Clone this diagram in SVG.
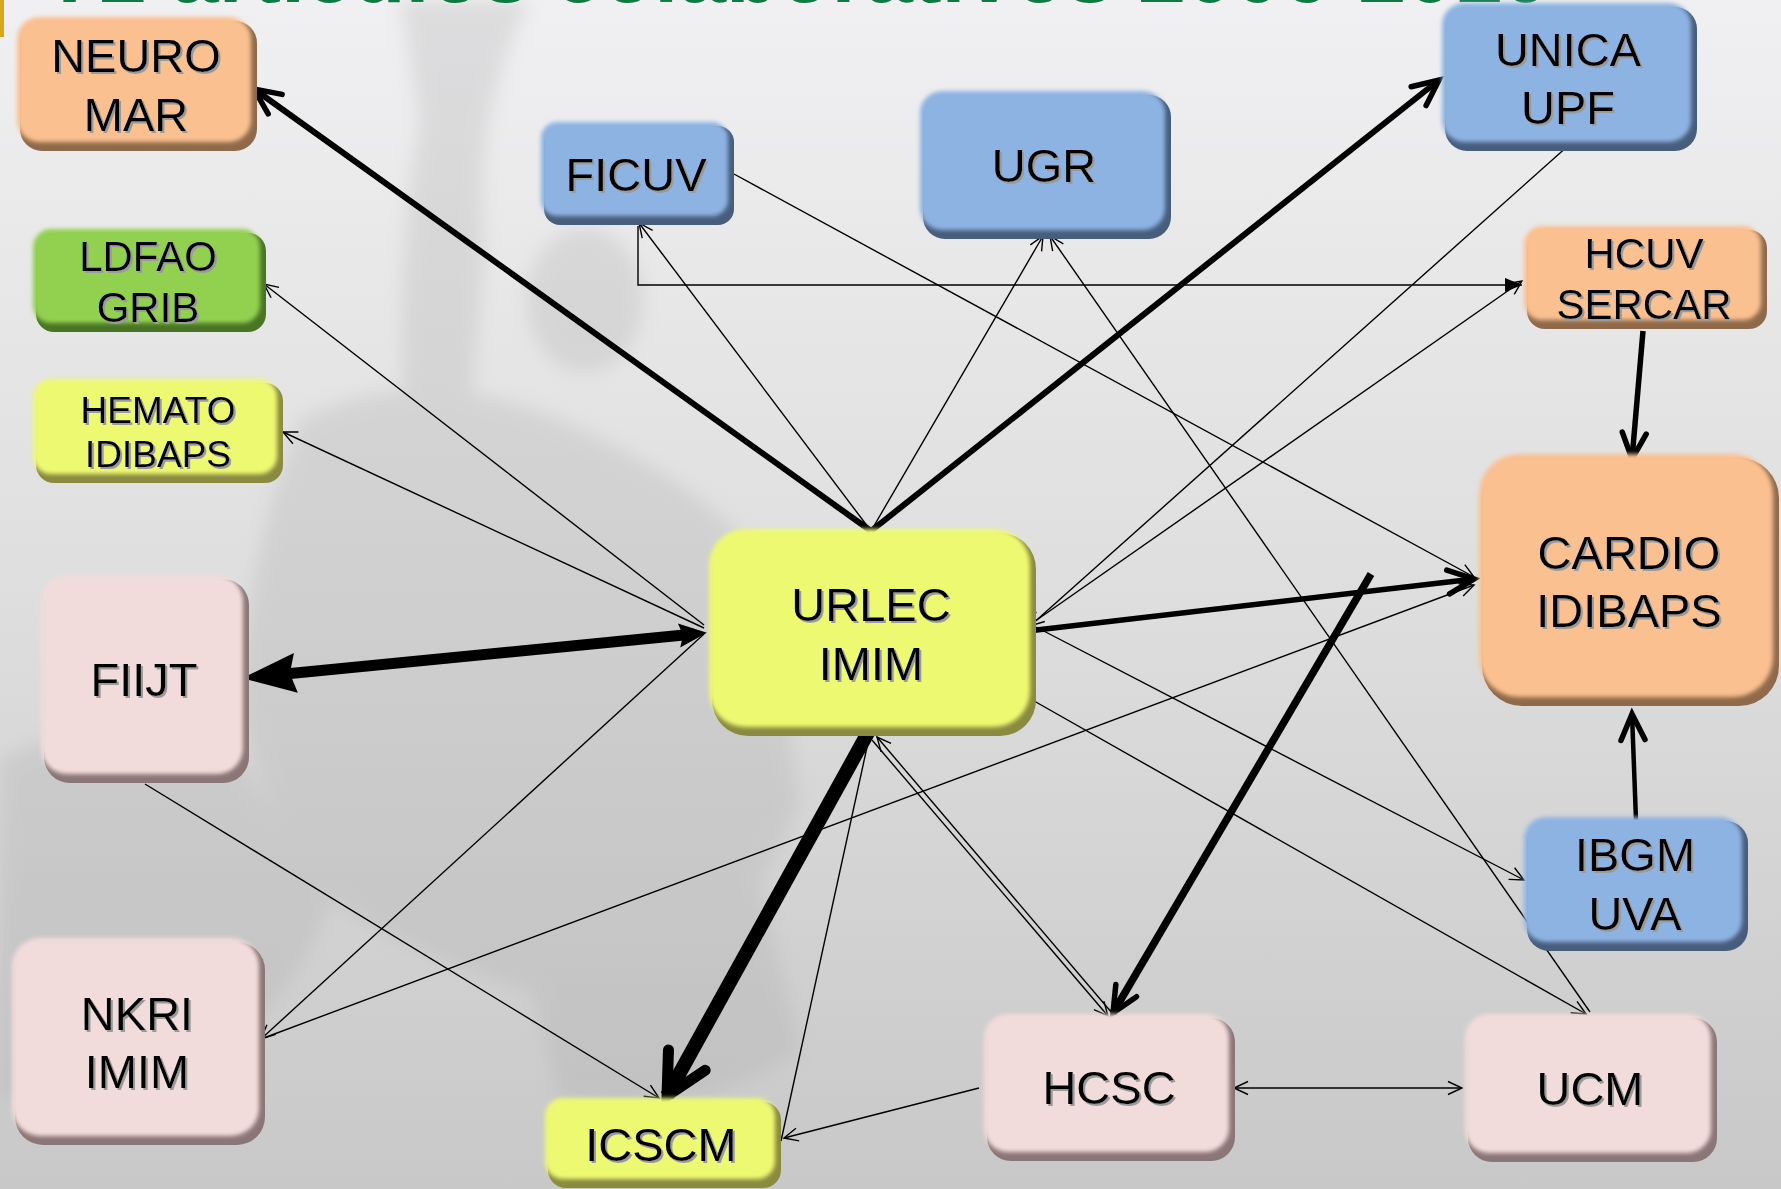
<svg xmlns="http://www.w3.org/2000/svg" width="1781" height="1189" viewBox="0 0 1781 1189">
<defs>
<linearGradient id="bg" x1="0" y1="0" x2="0" y2="1">
<stop offset="0" stop-color="#f0f0f2"/>
<stop offset="0.5" stop-color="#dedede"/>
<stop offset="1" stop-color="#c8c8c8"/>
</linearGradient>
<filter id="soft" x="-5%" y="-5%" width="110%" height="110%"><feGaussianBlur stdDeviation="2"/></filter>
<filter id="haze" x="-20%" y="-20%" width="140%" height="140%"><feGaussianBlur stdDeviation="9"/></filter>
<filter id="tsh" x="-5%" y="-10%" width="110%" height="130%"><feDropShadow dx="2" dy="2" stdDeviation="0.6" flood-color="#9a9a9a" flood-opacity="1"/></filter>
<marker id="aThin" markerUnits="userSpaceOnUse" markerWidth="20" markerHeight="18" refX="15" refY="8" orient="auto-start-reverse" overflow="visible">
<path d="M1,1.5 L15,8 L1,14.5" fill="none" stroke="#000" stroke-width="1.4"/>
</marker>
<marker id="aThick" markerUnits="userSpaceOnUse" markerWidth="36" markerHeight="32" refX="30" refY="15" orient="auto" overflow="visible">
<path d="M4,3 L30,15 L4,27" fill="none" stroke="#000" stroke-width="5.5" stroke-linecap="round"/>
</marker>
<marker id="aHuge" markerUnits="userSpaceOnUse" markerWidth="60" markerHeight="54" refX="48" refY="26" orient="auto" overflow="visible">
<path d="M7,5 L48,26 L7,47" fill="none" stroke="#000" stroke-width="11" stroke-linecap="round"/>
</marker>
<marker id="fBig" markerUnits="userSpaceOnUse" markerWidth="56" markerHeight="42" refX="26" refY="20" orient="auto" overflow="visible">
<path d="M0,0 L54,20 L0,40 L6,20 Z" fill="#000"/>
</marker>
<marker id="fMed" markerUnits="userSpaceOnUse" markerWidth="30" markerHeight="26" refX="15" refY="12" orient="auto-start-reverse" overflow="visible">
<path d="M0,0 L28,12 L0,24 L4,12 Z" fill="#000"/>
</marker>
<marker id="fSmall" markerUnits="userSpaceOnUse" markerWidth="18" markerHeight="16" refX="17" refY="7" orient="auto" overflow="visible">
<path d="M0,0 L17,7 L0,14 Z" fill="#000"/>
</marker>
</defs>
<style>
.lbl{font-family:"Liberation Sans",Arial,sans-serif;font-size:47px;text-anchor:middle;fill:#000;filter:url(#tsh)}
.s42{font-size:42px}
.s37{font-size:37px}
.face{filter:url(#soft)}
.orange .edge{fill:#8f6a4a}.orange .face{fill:#fac090}
.blue .edge{fill:#475d7c}.blue .face{fill:#8db3e2}
.green .edge{fill:#4a7426}.green .face{fill:#92d050}
.yellow .edge{fill:#8a8a40}.yellow .face{fill:#eef972}
.pink .edge{fill:#8a7676}.pink .face{fill:#f2dcdb}
.c{fill:none;stroke:#000;stroke-width:1.4}
.t4{stroke-width:4.5}
.t5{stroke-width:5.5}
.t6{stroke-width:6}
.t7{stroke-width:7.5}
.t11{stroke-width:11}
.t14{stroke-width:14}
.title{font-family:"Liberation Sans",Arial,sans-serif;font-weight:bold;font-size:86px;fill:#0e7a41}
</style>

<rect x="0" y="0" width="1781" height="1189" fill="url(#bg)"/>

<!-- faded statue in background -->
<g id="statue" fill="#a8a8a8" opacity="0.26" filter="url(#haze)">
<path d="M400,0 L530,0 Q470,120 485,250 L470,420 L405,420 Q395,260 420,120 Z"/>
<ellipse cx="585" cy="300" rx="58" ry="72"/>
<path d="M300,420 Q420,360 560,420 Q700,480 760,560 L800,800 Q760,900 700,960 L560,1000 Q420,960 330,900 Q260,820 240,700 Q250,540 300,420 Z"/>
<path d="M0,760 Q120,700 240,760 L330,900 Q300,1000 200,1060 L0,1100 Z"/>
<path d="M500,860 Q640,820 760,880 L800,1050 Q700,1120 560,1100 Z"/>
</g>

<rect x="0" y="0" width="4" height="37" fill="#d8a81c"/>
<text class="title" x="51" y="2" textLength="1499" lengthAdjust="spacingAndGlyphs">72 artículos colaborativos 2006-2010</text>

<g id="connectors">
<path class="c t6" d="M871,531 L254,89" marker-end="url(#aThick)"/>
<path class="c t6" d="M871,531 L1439,80" marker-end="url(#aThick)"/>
<path class="c" d="M871,531 L639,223" marker-end="url(#aThin)"/>
<path class="c" d="M871,531 L1043,236" marker-end="url(#aThin)"/>
<path class="c" d="M638,226 L638,285 L1522,285" marker-end="url(#fSmall)"/>
<path class="c" d="M734,174 L1474,577" marker-end="url(#aThin)"/>
<path class="c" d="M1569,145 L1030,626" marker-end="url(#aThin)"/>
<path class="c" d="M1031,624 L1522,281" marker-end="url(#aThin)"/>
<path class="c" d="M1590,1012 L1050,236" marker-end="url(#aThin)"/>
<path class="c t5" d="M1643,331 L1632,459" marker-end="url(#aThick)"/>
<path class="c t4" d="M1636,820 L1632,714" marker-end="url(#aThick)"/>
<path class="c t5" d="M1028,631 L1474,579" marker-end="url(#aThick)"/>
<path class="c t7" d="M1371,574 L1113,1013" marker-end="url(#aThick)"/>
<path class="c" d="M1036,627 L1524,880" marker-end="url(#aThin)"/>
<path class="c" d="M1020,693 L1586,1014" marker-end="url(#aThin)"/>
<path class="c" d="M261,1039 L1474,585" marker-end="url(#aThin)"/>
<path class="c" d="M704,625 L264,284" marker-end="url(#aThin)"/>
<path class="c" d="M704,628 L283,432" marker-end="url(#aThin)"/>
<path class="c t11" d="M694,634 L270,675.5" marker-start="url(#fMed)" marker-end="url(#fBig)"/>
<path class="c" d="M704,634 L261,1039" marker-end="url(#aThin)"/>
<path class="c" d="M145,784 L659,1098" marker-end="url(#aThin)"/>
<path class="c t14" d="M870,729 L667,1096" marker-end="url(#aHuge)"/>
<path class="c" d="M781,1141 L869,738"/>
<path class="c" d="M979,1088 L784,1138" marker-end="url(#aThin)"/>
<path class="c" d="M872,740 L1108,1016" marker-end="url(#aThin)"/>
<path class="c" d="M1112,1013 L877,737" marker-end="url(#aThin)"/>
<path class="c" d="M1234,1088 L1462,1088" marker-start="url(#aThin)" marker-end="url(#aThin)"/>
</g>

<g id="n-neuromar" class="orange">
<rect class="edge" x="20" y="21" width="237" height="130" rx="22"/>
<rect class="face" x="17" y="17" width="234" height="125" rx="22"/>
<text class="lbl" x="136" y="72">NEURO</text>
<text class="lbl" x="136" y="131">MAR</text>
</g>
<g id="n-ficuv" class="blue">
<rect class="edge" x="544" y="126" width="190" height="99" rx="16"/>
<rect class="face" x="541" y="122" width="187" height="94" rx="16"/>
<text class="lbl" x="636" y="191">FICUV</text>
</g>
<g id="n-ugr" class="blue">
<rect class="edge" x="923" y="95" width="248" height="144" rx="22"/>
<rect class="face" x="920" y="91" width="245" height="139" rx="22"/>
<text class="lbl" x="1044" y="182">UGR</text>
</g>
<g id="n-unica" class="blue">
<rect class="edge" x="1445" y="7" width="252" height="144" rx="22"/>
<rect class="face" x="1442" y="3" width="249" height="139" rx="22"/>
<text class="lbl" x="1568" y="66">UNICA</text>
<text class="lbl" x="1568" y="124">UPF</text>
</g>
<g id="n-ldfao" class="green">
<rect class="edge" x="36" y="233" width="230" height="99" rx="18"/>
<rect class="face" x="33" y="229" width="227" height="94" rx="18"/>
<text class="lbl s42" x="148" y="271">LDFAO</text>
<text class="lbl s42" x="148" y="322">GRIB</text>
</g>
<g id="n-hcuv" class="orange">
<rect class="edge" x="1527" y="230" width="240" height="99" rx="18"/>
<rect class="face" x="1524" y="226" width="237" height="94" rx="18"/>
<text class="lbl s42" x="1644" y="268">HCUV</text>
<text class="lbl s42" x="1644" y="319">SERCAR</text>
</g>
<g id="n-hemato" class="yellow">
<rect class="edge" x="36" y="383" width="247" height="100" rx="18"/>
<rect class="face" x="33" y="379" width="244" height="95" rx="18"/>
<text class="lbl s37" x="158" y="423">HEMATO</text>
<text class="lbl s37" x="158" y="467">IDIBAPS</text>
</g>
<g id="n-urlec" class="yellow">
<rect class="edge" x="712" y="533" width="324" height="203" rx="36"/>
<rect class="face" x="709" y="529" width="321" height="198" rx="36"/>
<text class="lbl" x="871" y="621">URLEC</text>
<text class="lbl" x="871" y="680">IMIM</text>
</g>
<g id="n-cardio" class="orange">
<rect class="edge" x="1482" y="458" width="297" height="248" rx="40"/>
<rect class="face" x="1479" y="454" width="294" height="243" rx="40"/>
<text class="lbl" x="1629" y="569">CARDIO</text>
<text class="lbl" x="1629" y="627">IDIBAPS</text>
</g>
<g id="n-fiijt" class="pink">
<rect class="edge" x="44" y="579" width="205" height="204" rx="26"/>
<rect class="face" x="41" y="575" width="202" height="199" rx="26"/>
<text class="lbl" x="144" y="696">FIIJT</text>
</g>
<g id="n-ibgm" class="blue">
<rect class="edge" x="1527" y="821" width="221" height="130" rx="22"/>
<rect class="face" x="1524" y="817" width="218" height="125" rx="22"/>
<text class="lbl" x="1635" y="871">IBGM</text>
<text class="lbl" x="1635" y="930">UVA</text>
</g>
<g id="n-nkri" class="pink">
<rect class="edge" x="15" y="942" width="250" height="203" rx="28"/>
<rect class="face" x="12" y="938" width="247" height="198" rx="28"/>
<text class="lbl" x="137" y="1030">NKRI</text>
<text class="lbl" x="137" y="1088">IMIM</text>
</g>
<g id="n-hcsc" class="pink">
<rect class="edge" x="987" y="1018" width="248" height="143" rx="24"/>
<rect class="face" x="984" y="1014" width="245" height="138" rx="24"/>
<text class="lbl" x="1109" y="1104">HCSC</text>
</g>
<g id="n-ucm" class="pink">
<rect class="edge" x="1468" y="1018" width="249" height="144" rx="24"/>
<rect class="face" x="1465" y="1014" width="246" height="139" rx="24"/>
<text class="lbl" x="1590" y="1105">UCM</text>
</g>
<g id="n-icscm" class="yellow">
<rect class="edge" x="548" y="1102" width="233" height="86" rx="18"/>
<rect class="face" x="545" y="1098" width="230" height="81" rx="18"/>
<text class="lbl" x="661" y="1161">ICSCM</text>
</g>
</svg>
